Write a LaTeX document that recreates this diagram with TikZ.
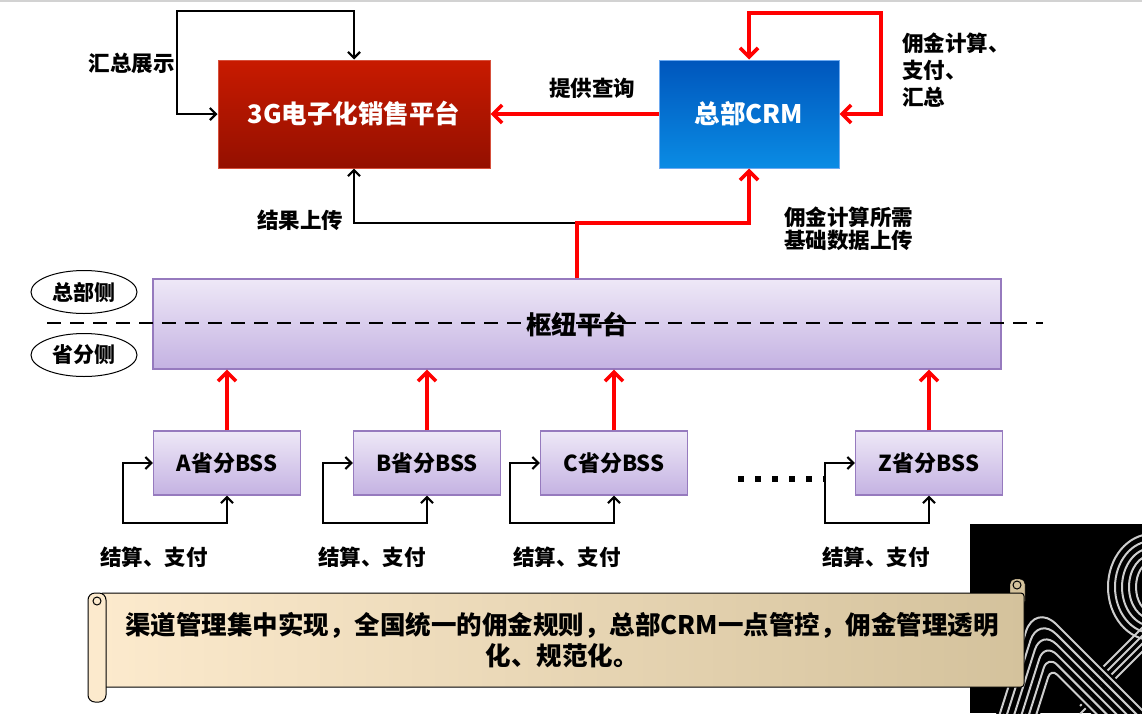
\documentclass[tikz,border=0pt]{standalone}
\usepackage{fontspec}
\setmainfont{Noto Sans CJK SC}
\usetikzlibrary{arrows.meta,positioning,shapes.geometric}
\definecolor{salestop}{RGB}{200,26,0}
\definecolor{salesbot}{RGB}{148,16,0}
\definecolor{salesline}{RGB}{214,80,60}
\definecolor{crmtop}{RGB}{0,86,188}
\definecolor{crmbot}{RGB}{10,140,228}
\definecolor{crmline}{RGB}{110,170,240}
\definecolor{hubtop}{RGB}{238,232,247}
\definecolor{hubbot}{RGB}{196,178,226}
\definecolor{hubline}{RGB}{150,122,190}
\definecolor{scrollleft}{RGB}{252,234,205}
\definecolor{scrollright}{RGB}{212,194,156}
\definecolor{arcgray}{RGB}{205,205,205}

\tikzset{
  topbox/.style={minimum height=108pt, text=white, line width=1pt,
    font=\bfseries\fontsize{25.5}{30}\selectfont},
  bss/.style={draw=hubline, line width=1.2pt, top color=hubtop, bottom color=hubbot,
    minimum width=147pt, minimum height=64pt, font=\bfseries\fontsize{22}{26}\selectfont},
  side/.style={ellipse, draw, line width=1pt, minimum width=106pt, minimum height=43pt,
    inner sep=0pt, font=\bfseries\fontsize{21}{24}\selectfont},
  lbl/.style={inner sep=0pt, align=left, font=\bfseries\fontsize{21.5}{27}\selectfont},
  barb/.tip={Straight Barb[length=6pt,width=12pt]},
  bigbarb/.tip={Straight Barb[length=9pt,width=18pt]},
  blkline/.style={draw=black, line width=2.2pt, -barb},
  blkloop/.style={draw=black, line width=2.2pt, barb-barb},
  redline/.style={draw=red, line width=3.6pt, -bigbarb},
  redloop/.style={draw=red, line width=3.6pt, bigbarb-bigbarb},
  knot/.style={arcgray, line width=2pt}
}

\begin{document}
\begin{tikzpicture}[x=1pt, y=-1pt]
  \useasboundingbox (0,0) rectangle (1142,713);
  \draw[gray!35, line width=2pt] (0,1) -- (1142,1);

  % top systems
  \node[topbox, draw=salesline, top color=salestop, bottom color=salesbot, minimum width=272pt] (sales) at (354,114) {3G电子化销售平台};
  \node[topbox, draw=crmline, top color=crmtop, bottom color=crmbot, minimum width=180pt] (crm) at (749,114) {总部CRM};

  % hub and provinces
  \node[draw=hubline, line width=1.2pt, top color=hubtop, bottom color=hubbot,
        minimum width=848pt, minimum height=90pt] (hub) at (577,324) {};
  \draw[line width=2.6pt, dash pattern=on 14pt off 9pt] (47,323) -- (1043,323);
  \node[font=\bfseries\fontsize{25.5}{30}\selectfont] at (hub) {枢纽平台};

  \node[side] (hq) at (84,292) {总部侧};
  \node[side] (prov) at (84,355) {省分侧};

  \node[bss] (bssA) at (227,463) {A省分BSS};
  \node[bss] (bssB) at (427,463) {B省分BSS};
  \node[bss] (bssC) at (614,463) {C省分BSS};
  \node[bss] (bssZ) at (929,463) {Z省分BSS};

  % connectors
  \coordinate (split) at (577,223);
  \draw[blkloop] (sales.north) |- (177,11) |- (sales.west);
  \draw[redloop] (crm.north) |- (881,13) |- (crm.east);
  \draw[redline] (crm.west) -- (sales.east);
  \draw[blkline] (split) -| (sales.south);
  \draw[redline] (hub.north) -- (split) -| (crm.south);

  \foreach \b in {bssA,bssB,bssC,bssZ} {
    \draw[redline] (\b.north) -- (\b.north |- hub.south);
    \draw[blkloop] (\b.south) -- ++(0,27) -| ([xshift=-30pt]\b.west) -- (\b.west);
  }
  \draw[line width=6pt, dash pattern=on 6pt off 11pt] (738,479) -- (826,479);

  % labels
  \node[lbl, anchor=east] at (175,63) {汇总展示};
  \node[lbl] at (592,88) {提供查询};
  \node[lbl, anchor=west] at (902,70) {佣金计算、\\支付、\\汇总};
  \node[lbl] at (300,220) {结果上传};
  \node[lbl, anchor=west, font=\bfseries\fontsize{21.5}{23.5}\selectfont] at (784,229) {佣金计算所需\\基础数据上传};
  \node[lbl] at (154,557) {结算、支付};
  \node[lbl] at (372,557) {结算、支付};
  \node[lbl] at (567,557) {结算、支付};
  \node[lbl] at (876,557) {结算、支付};

  % corner logo
  \begin{scope}
    \clip (970,524) rectangle (1142,713);
    \fill[black] (970,524) rectangle (1142,713);
    \foreach \r in {16,23,30,37,44}
      \draw[knot] (1152,587) ellipse ({\r*1pt} and {(\r+9)*1pt});
    \foreach \i in {0,1,2,3}
      \draw[knot] (1150,620+8*\i) -- (1080,690+8*\i);
    \foreach \d in {0,7,14,21,28,35} {
      \draw[black, line width=7pt, rounded corners={(30-0.6*\d)*1pt}]
        (995+0.455*\d,729+1.869*\d) -- (1035+0.455*\d,603+1.869*\d) -- (1155+0.455*\d,723+1.869*\d);
      \draw[knot, rounded corners={(30-0.6*\d)*1pt}]
        (995+0.455*\d,729+1.869*\d) -- (1035+0.455*\d,603+1.869*\d) -- (1155+0.455*\d,723+1.869*\d);
    }
  \end{scope}

  % scroll
  \draw[fill=scrollright, rounded corners=5pt] (1010,579) rectangle (1025,606);
  \node[draw, line width=1pt, rounded corners=3pt, left color=scrollleft, right color=scrollright,
        minimum width=924pt, minimum height=94pt, align=center,
        font=\bfseries\fontsize{25.5}{31}\selectfont] (scroll) at (562,640)
        {渠道管理集中实现，全国统一的佣金规则，总部CRM一点管控，佣金管理透明\\化、规范化。};
  \draw[line width=1pt] (1017,585) circle (4pt);
  \draw[fill=scrollleft, line width=1pt, rounded corners=7pt] (88,593) rectangle (106,702);
  \draw[line width=1pt] (97,601) circle (4pt);
\end{tikzpicture}
\end{document}
